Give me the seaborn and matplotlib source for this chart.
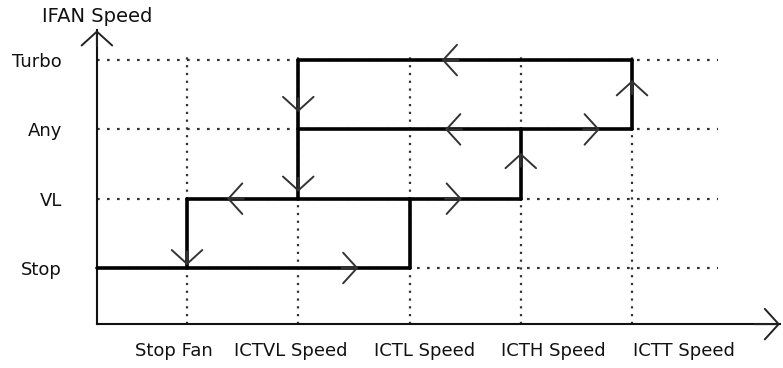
import matplotlib
matplotlib.use("Agg")
import matplotlib.pyplot as plt
import matplotlib.transforms as mtransforms
import pandas as pd
import seaborn as sns

# fan speed levels (y) and temperature thresholds (x)
speed_levels = ["Stop", "VL", "Any", "Turbo"]
thresholds = ["Stop Fan", "ICTVL Speed", "ICTL Speed", "ICTH Speed", "ICTT Speed"]

# thick hysteresis path segments: (x from, level from, x to, level to); None = y axis
segments = [
    (None, "Stop", "ICTL Speed", "Stop"),
    ("Stop Fan", "VL", "ICTH Speed", "VL"),
    ("ICTVL Speed", "Any", "ICTT Speed", "Any"),
    ("ICTVL Speed", "Turbo", "ICTT Speed", "Turbo"),
    ("Stop Fan", "Stop", "Stop Fan", "VL"),
    ("ICTVL Speed", "VL", "ICTVL Speed", "Turbo"),
    ("ICTL Speed", "Stop", "ICTL Speed", "VL"),
    ("ICTH Speed", "VL", "ICTH Speed", "Any"),
    ("ICTT Speed", "Any", "ICTT Speed", "Turbo"),
]

# direction arrows on the path: (x, y, direction) in threshold / level units
arrows = [
    (2.54, 1.00, "right"),
    (1.36, 2.00, "left"),
    (3.47, 2.00, "right"),
    (4.00, 2.66, "up"),
    (3.32, 3.00, "left"),
    (4.71, 3.00, "right"),
    (5.00, 3.71, "up"),
    (3.29, 4.00, "left"),
    (2.00, 3.25, "down"),
    (2.00, 2.10, "down"),
    (1.00, 1.04, "down"),
]

sns.set_style("white")
plt.rcParams["font.family"] = ["DejaVu Sans"]
plt.rcParams["text.color"] = "#111111"
plt.rcParams["xtick.labelcolor"] = "#111111"
plt.rcParams["ytick.labelcolor"] = "#111111"

xpos = {t: i + 1 for i, t in enumerate(thresholds)}
ypos = {s: i + 1 for i, s in enumerate(speed_levels)}
x0, y0 = 0.19, 0.19

rows = []
for k, (xa, la, xb, lb) in enumerate(segments):
    rows.append({"seg": k, "x": x0 if xa is None else xpos[xa], "y": ypos[la]})
    rows.append({"seg": k, "x": xpos[xb], "y": ypos[lb]})
path = pd.DataFrame(rows)

fig = plt.figure(figsize=(7.83, 3.68), dpi=100)
ax = fig.add_axes([0, 0, 1, 1])

# dotted guide lines
ax.hlines(list(ypos.values()), x0, 5.77, colors="#333333", lw=1.6,
          linestyles=(0, (1.2, 3.3)), zorder=1)
ax.vlines(list(xpos.values()), y0, 4.10, colors="#333333", lw=1.6,
          linestyles=(0, (1.0, 2.5)), zorder=1)

sns.lineplot(data=path, x="x", y="y", units="seg", estimator=None, sort=False,
             color="black", lw=2.6, ax=ax, zorder=3)

step = {"right": (1, 0), "left": (-1, 0), "up": (0, 1), "down": (0, -1)}
for x, y, d in arrows:
    dx, dy = step[d]
    ax.annotate("", xy=(x, y), xytext=(x - dx * 0.15, y - dy * 0.2),
                arrowprops=dict(arrowstyle="->,head_length=1.0,head_width=1.1",
                                color="#333333", lw=1.4, shrinkA=0, shrinkB=0),
                zorder=4)

# axes with open arrow heads
ax.spines["left"].set_position(("data", x0))
ax.spines["bottom"].set_position(("data", y0))
ax.spines["left"].set_bounds(y0, 4.43)
ax.spines["bottom"].set_bounds(x0, 6.33)
for s in ["left", "bottom"]:
    ax.spines[s].set_linewidth(1.5)
    ax.spines[s].set_color("#111111")
ax.spines["top"].set_visible(False)
ax.spines["right"].set_visible(False)
for tip, tail in [((x0, 4.43), (x0, 4.2)), ((6.33, y0), (6.1, y0))]:
    ax.annotate("", xy=tip, xytext=tail,
                arrowprops=dict(arrowstyle="->,head_length=1.0,head_width=1.1",
                                color="#222222", lw=1.4, shrinkA=0, shrinkB=0))

ax.set_xlim(-0.681, 6.357)
ax.set_ylim(-0.443, 4.867)
ax.set_xticks(list(xpos.values()), thresholds)
ax.set_yticks(list(ypos.values()), speed_levels)
ax.set_xlabel("")
ax.set_ylabel("")
ax.tick_params(axis="y", direction="out", length=21, width=1.2, pad=4,
               labelsize=13, color="#111111")
ax.tick_params(axis="x", direction="in", length=14, width=1.2, pad=13,
               labelsize=13, color="#333333")

# the labels in the original drift right of their ticks
shifts = [-13, -8, 15, 33, 52]
for lab, dx in zip(ax.get_xticklabels(), shifts):
    lab.set_transform(lab.get_transform()
                      + mtransforms.ScaledTranslation(dx / 100, 0, fig.dpi_scale_trans))

fig.text(42 / 783, 1 - 17 / 368, "IFAN Speed", ha="left", va="center", fontsize=14)

fig.savefig("out.png", dpi=100)
